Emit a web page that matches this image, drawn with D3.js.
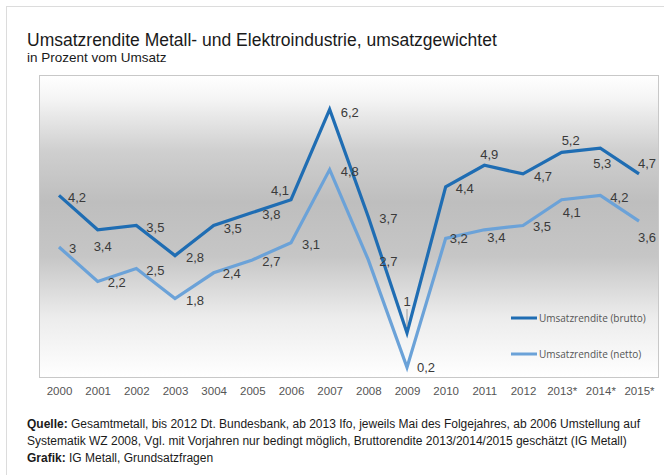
<!DOCTYPE html>
<html>
<head>
<meta charset="utf-8">
<script src="https://cdn.jsdelivr.net/npm/d3@7"></script>
<style>
  body { margin: 0; background: #fff; }
  svg { display: block; font-family: "Liberation Sans", Arial, sans-serif; }
</style>
</head>
<body>
<svg id="chart"></svg>
<script>
// data
const years = ["2000", "2001", "2002", "2003", "3004", "2005", "2006", "2007",
  "2008", "2009", "2010", "2011", "2012", "2013*", "2014*", "2015*"];
const brutto = [4.2, 3.4, 3.5, 2.8, 3.5, 3.8, 4.1, 6.2, 3.7, 1.0, 4.4, 4.9, 4.7, 5.2, 5.3, 4.7];
const netto = [3.0, 2.2, 2.5, 1.8, 2.4, 2.7, 3.1, 4.8, 2.7, 0.2, 3.2, 3.4, 3.5, 4.1, 4.2, 3.6];
const seriesNames = ["Umsatzrendite (brutto)", "Umsatzrendite (netto)"];

// label placement relative to each point: [dx, dy, anchor]
const bruttoLabelPos = [
  [9, 2, "start"], [5, 17, "middle"], [10, 2, "start"], [11, 2, "start"],
  [10, 3, "start"], [10, 2, "start"], [-2, -9, "end"], [11, 3, "start"],
  [11, 2, "start"], [0, -32, "middle"], [10, 2, "start"], [5, -11, "middle"],
  [11, 3, "start"], [9, -12, "middle"], [2, 15, "middle"], [-1, -10, "start"],
];
const nettoLabelPos = [
  [10, 1, "start"], [10, 1, "start"], [10, 2, "start"], [11, 2, "start"],
  [9, 1, "start"], [10, 2, "start"], [11, 2, "start"], [11, 2, "start"],
  [11, 2, "start"], [10, 0, "start"], [4, 0, "start"], [3, 8, "start"],
  [10, 1, "start"], [1, 13, "start"], [10, 2, "start"], [-1, 16, "start"],
];

const W = 664, H = 475;
const box = { left: 39.5, top: 75.5, right: 658.5, bottom: 377.5 };
const colors = ["#1f6db3", "#6ba2d8"];

const svg = d3.select("#chart").attr("width", W).attr("height", H);

// outer card
svg.append("rect")
  .attr("x", 6.5).attr("y", 6.5)
  .attr("width", 720).attr("height", 520)
  .attr("fill", "#fff").attr("stroke", "#dcdcdc");

// titles
svg.append("text")
  .attr("x", 27).attr("y", 46)
  .attr("font-size", 17.5).attr("fill", "#1a1a1a")
  .text("Umsatzrendite Metall- und Elektroindustrie, umsatzgewichtet");
svg.append("text")
  .attr("x", 27).attr("y", 62)
  .attr("font-size", 13.5).attr("fill", "#1a1a1a")
  .text("in Prozent vom Umsatz");

// gradient background of the plot box
const grad = svg.append("defs").append("linearGradient")
  .attr("id", "bg").attr("x1", 0).attr("y1", 0).attr("x2", 0).attr("y2", 1);
[[0, "#ffffff"], [0.08, "#f4f4f4"], [0.25, "#cfcfcf"], [0.42, "#bebebe"],
 [0.6, "#c6c6c6"], [0.8, "#ececec"], [1, "#ffffff"]].forEach(([o, c]) => {
  grad.append("stop").attr("offset", o).attr("stop-color", c);
});

svg.append("rect")
  .attr("x", box.left).attr("y", box.top)
  .attr("width", box.right - box.left).attr("height", box.bottom - box.top)
  .attr("fill", "url(#bg)").attr("stroke", "#c8c8c8");

// scales
const x = d3.scalePoint().domain(years).range([59, 639]);
const y = d3.scaleLinear().domain([0, 7]).range([376, 75]);

// x axis
const gx = svg.append("g")
  .attr("transform", `translate(0,${box.bottom})`)
  .call(d3.axisBottom(x).tickSize(0).tickPadding(9));
gx.select(".domain").remove();
gx.selectAll("text")
  .attr("font-size", 11.5).attr("fill", "#555")
  .attr("font-family", "Liberation Sans, Arial, sans-serif");

// lines
const line = d3.line().x((d, i) => x(years[i])).y((d) => y(d));
const allSeries = [
  { name: seriesNames[0], values: brutto, pos: bruttoLabelPos, color: colors[0] },
  { name: seriesNames[1], values: netto, pos: nettoLabelPos, color: colors[1] },
];

svg.selectAll("path.series")
  .data(allSeries.slice().reverse())
  .join("path")
  .attr("class", "series")
  .attr("d", (d) => line(d.values))
  .attr("fill", "none")
  .attr("stroke", (d) => d.color)
  .attr("stroke-width", 3.2)
  .attr("stroke-linejoin", "miter");

// value labels
const fmt = (v) => (v % 1 === 0 ? String(v) : String(v).replace(".", ","));
allSeries.forEach((s) => {
  svg.append("g").selectAll("text")
    .data(s.values)
    .join("text")
    .attr("x", (d, i) => x(years[i]) + s.pos[i][0])
    .attr("y", (d, i) => y(d) + s.pos[i][1])
    .attr("text-anchor", (d, i) => s.pos[i][2])
    .attr("dominant-baseline", "central")
    .attr("font-size", 13).attr("fill", "#3a3a3a")
    .text(fmt);
});

// leader line for the 2009 brutto label
const i09 = years.indexOf("2009");
svg.append("line")
  .attr("x1", x(years[i09])).attr("x2", x(years[i09]))
  .attr("y1", y(brutto[i09]) - 24).attr("y2", y(brutto[i09]) - 6)
  .attr("stroke", "#888").attr("stroke-width", 0.8);

// legend
const legend = svg.append("g").selectAll("g")
  .data(allSeries)
  .join("g")
  .attr("transform", (d, i) => `translate(511,${318 + i * 36})`);
legend.append("line")
  .attr("x1", 0).attr("x2", 26)
  .attr("stroke", (d) => d.color).attr("stroke-width", 3);
legend.append("text")
  .attr("x", 28).attr("dominant-baseline", "central")
  .attr("font-family", "Open Sans, sans-serif")
  .attr("font-size", 10).attr("fill", "#555")
  .text((d) => d.name);

// footer
const foot = svg.append("g").attr("font-size", 12).attr("fill", "#1a1a1a");
const l1 = foot.append("text").attr("x", 27).attr("y", 428);
l1.append("tspan").attr("font-weight", "bold").text("Quelle:");
l1.append("tspan").text(" Gesamtmetall, bis 2012 Dt. Bundesbank, ab 2013 Ifo, jeweils Mai des Folgejahres, ab 2006 Umstellung auf");
foot.append("text").attr("x", 27).attr("y", 445)
  .text("Systematik WZ 2008, Vgl. mit Vorjahren nur bedingt möglich, Bruttorendite 2013/2014/2015 geschätzt (IG Metall)");
const l3 = foot.append("text").attr("x", 27).attr("y", 462);
l3.append("tspan").attr("font-weight", "bold").text("Grafik:");
l3.append("tspan").text(" IG Metall, Grundsatzfragen");
</script>
</body>
</html>
